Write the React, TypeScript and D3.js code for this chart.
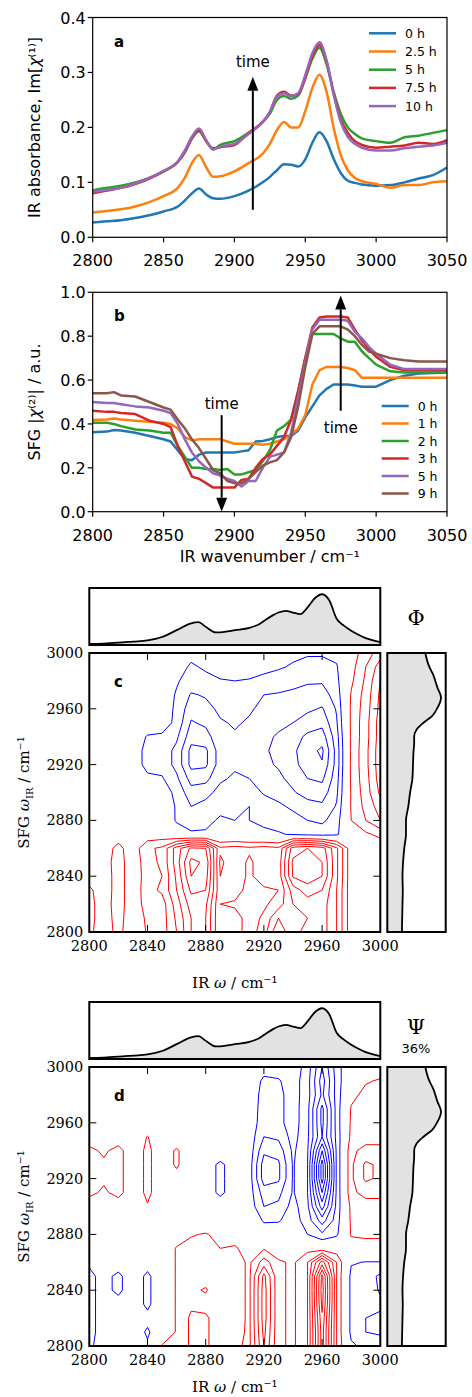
import React from 'react';
import * as d3 from 'd3';

// ---------- panel a: IR absorbance spectra ----------
const irWavenumbers = [2800, 2810, 2820, 2830, 2840, 2850, 2860, 2865, 2870, 2875, 2880, 2885, 2890, 2900, 2910, 2920, 2925, 2930, 2935, 2940, 2945, 2950, 2955, 2960, 2965, 2970, 2975, 2980, 2985, 2990, 3000, 3010, 3020, 3030, 3040, 3050];
const ir0h = [0.027, 0.029, 0.031, 0.035, 0.04, 0.047, 0.056, 0.067, 0.08, 0.089, 0.078, 0.071, 0.07, 0.075, 0.085, 0.1, 0.11, 0.122, 0.133, 0.132, 0.129, 0.142, 0.172, 0.191, 0.175, 0.143, 0.117, 0.103, 0.099, 0.096, 0.094, 0.095, 0.1, 0.107, 0.113, 0.127];
const ir25h = [0.045, 0.048, 0.051, 0.056, 0.064, 0.075, 0.09, 0.108, 0.135, 0.15, 0.128, 0.11, 0.111, 0.12, 0.135, 0.152, 0.17, 0.195, 0.21, 0.2, 0.2, 0.23, 0.272, 0.296, 0.265, 0.2, 0.15, 0.122, 0.108, 0.102, 0.097, 0.09, 0.095, 0.095, 0.1, 0.102];
const ir5h = [0.085, 0.09, 0.094, 0.1, 0.108, 0.12, 0.137, 0.155, 0.18, 0.193, 0.176, 0.16, 0.168, 0.175, 0.19, 0.21, 0.225, 0.25, 0.257, 0.252, 0.258, 0.29, 0.325, 0.345, 0.315, 0.265, 0.225, 0.2, 0.188, 0.18, 0.175, 0.172, 0.182, 0.185, 0.19, 0.195];
const ir75h = [0.08, 0.085, 0.09, 0.097, 0.107, 0.12, 0.137, 0.155, 0.18, 0.195, 0.175, 0.162, 0.164, 0.168, 0.19, 0.21, 0.228, 0.258, 0.265, 0.258, 0.26, 0.29, 0.33, 0.35, 0.32, 0.262, 0.215, 0.19, 0.175, 0.168, 0.163, 0.165, 0.167, 0.172, 0.17, 0.177];
const ir10h = [0.083, 0.086, 0.09, 0.098, 0.108, 0.121, 0.138, 0.158, 0.183, 0.198, 0.177, 0.16, 0.165, 0.17, 0.188, 0.21, 0.228, 0.256, 0.262, 0.257, 0.262, 0.295, 0.335, 0.355, 0.322, 0.26, 0.21, 0.183, 0.17, 0.163, 0.158, 0.158, 0.162, 0.165, 0.167, 0.172];

// ---------- panel b: SFG spectra ----------
const sfgWavenumbers = [2800, 2810, 2815, 2820, 2830, 2840, 2850, 2855, 2860, 2865, 2870, 2875, 2880, 2885, 2890, 2895, 2900, 2905, 2910, 2915, 2920, 2925, 2930, 2935, 2940, 2945, 2950, 2955, 2960, 2965, 2970, 2975, 2980, 2985, 2990, 2995, 3000, 3010, 3020, 3030, 3050];
const sfg0h = [0.362, 0.365, 0.372, 0.37, 0.36, 0.345, 0.33, 0.32, 0.28, 0.24, 0.235, 0.26, 0.27, 0.27, 0.27, 0.27, 0.27, 0.275, 0.28, 0.32, 0.322, 0.33, 0.34, 0.345, 0.345, 0.37, 0.43, 0.48, 0.53, 0.56, 0.58, 0.58, 0.58, 0.575, 0.57, 0.57, 0.57, 0.6, 0.62, 0.63, 0.635];
const sfg1h = [0.418, 0.42, 0.425, 0.42, 0.415, 0.41, 0.405, 0.4, 0.38, 0.34, 0.325, 0.33, 0.33, 0.33, 0.33, 0.32, 0.31, 0.31, 0.31, 0.31, 0.305, 0.31, 0.32, 0.33, 0.35, 0.38, 0.44, 0.58, 0.645, 0.66, 0.66, 0.66, 0.655, 0.645, 0.61, 0.61, 0.61, 0.61, 0.61, 0.61, 0.61];
const sfg2h = [0.405, 0.405, 0.4, 0.39, 0.375, 0.37, 0.36, 0.36, 0.3, 0.25, 0.2, 0.2, 0.195, 0.195, 0.19, 0.195, 0.17, 0.17, 0.18, 0.19, 0.23, 0.28, 0.37, 0.39, 0.42, 0.55, 0.7, 0.81, 0.81, 0.81, 0.81, 0.79, 0.775, 0.775, 0.73, 0.7, 0.67, 0.64, 0.635, 0.635, 0.635];
const sfg3h = [0.46, 0.455, 0.455, 0.45, 0.445, 0.415, 0.4, 0.385, 0.3, 0.23, 0.16, 0.15, 0.13, 0.11, 0.11, 0.11, 0.11, 0.145, 0.15, 0.2, 0.24, 0.26, 0.3, 0.34, 0.42, 0.55, 0.7, 0.84, 0.885, 0.89, 0.89, 0.89, 0.885, 0.83, 0.78, 0.74, 0.706, 0.66, 0.645, 0.645, 0.645];
const sfg5h = [0.5, 0.495, 0.495, 0.49, 0.48, 0.475, 0.46, 0.45, 0.4, 0.33, 0.27, 0.23, 0.2, 0.175, 0.165, 0.15, 0.14, 0.115, 0.14, 0.14, 0.2, 0.25, 0.26, 0.27, 0.36, 0.52, 0.68, 0.83, 0.875, 0.875, 0.875, 0.875, 0.87, 0.82, 0.79, 0.75, 0.72, 0.67, 0.65, 0.65, 0.65];
const sfg9h = [0.54, 0.54, 0.545, 0.53, 0.525, 0.5, 0.475, 0.465, 0.42, 0.38, 0.33, 0.29, 0.24, 0.19, 0.175, 0.14, 0.13, 0.13, 0.15, 0.18, 0.21, 0.225, 0.235, 0.27, 0.34, 0.48, 0.66, 0.81, 0.845, 0.845, 0.845, 0.845, 0.83, 0.8, 0.76, 0.73, 0.72, 0.7, 0.69, 0.685, 0.685];

const abXTicks = [2800, 2850, 2900, 2950, 3000, 3050];
const aYTicks = [0, 0.1, 0.2, 0.3, 0.4];
const bYTicks = [0, 0.2, 0.4, 0.6, 0.8, 1.0];

// ---------- marginal spectra for the 2D maps (normalised) ----------
const margTopX = [2800, 2810, 2820, 2830, 2840, 2850, 2860, 2870, 2875, 2880, 2887, 2895, 2900, 2910, 2917, 2920, 2926, 2930, 2935, 2940, 2945, 2950, 2955, 2960, 2965, 2970, 2975, 2980, 2985, 2990, 2995, 3000];
const margTopVals = [0.02, 0.025, 0.04, 0.06, 0.08, 0.14, 0.26, 0.38, 0.4, 0.32, 0.22, 0.24, 0.26, 0.3, 0.37, 0.42, 0.52, 0.57, 0.6, 0.57, 0.54, 0.66, 0.82, 0.89, 0.78, 0.46, 0.34, 0.25, 0.18, 0.12, 0.08, 0.05];
const margSideY = [2800, 2810, 2820, 2830, 2840, 2850, 2860, 2870, 2880, 2890, 2900, 2910, 2920, 2930, 2935, 2940, 2945, 2950, 2955, 2960, 2968, 2975, 2985, 2990, 3000];
const margSideVals = [0.25, 0.255, 0.26, 0.265, 0.26, 0.27, 0.29, 0.32, 0.32, 0.36, 0.39, 0.43, 0.44, 0.45, 0.46, 0.46, 0.5, 0.62, 0.77, 0.85, 0.92, 0.86, 0.78, 0.72, 0.65];

// ---------- 2D correlation maps: columns = IR, rows = SFG (top row 3000) ----------
const mapCols = [2800, 2810, 2820, 2830, 2840, 2850, 2860, 2870, 2880, 2890, 2900, 2910, 2920, 2930, 2940, 2950, 2960, 2970, 2980, 2990, 3000];
const mapRows = [3000, 2990, 2980, 2970, 2960, 2950, 2940, 2930, 2920, 2910, 2900, 2890, 2880, 2870, 2860, 2850, 2840, 2830, 2820, 2810, 2800];
const mapTicks = [2800, 2840, 2880, 2920, 2960, 3000];

const phiGrid = [
  [0, 0, 0, 0, 0, 0, -0.3, -0.8, -0.7, -0.5, -0.5, -0.5, -0.6, -0.7, -0.8, -0.9, -0.9, -0.7, 0.5, 1.5, 2.5],
  [0, 0, 0, 0, 0, -0.2, -0.7, -1.1, -0.9, -0.7, -0.7, -0.7, -0.8, -0.9, -1.1, -1.3, -1.3, -1.1, 0.6, 2.0, 3.5],
  [0, 0, 0, 0, 0, -0.3, -0.9, -1.4, -1.2, -1.05, -1.0, -1.05, -1.2, -1.4, -1.7, -1.9, -1.9, -1.3, 0.8, 2.2, 4.0],
  [0, 0, 0, 0, 0, -0.4, -1.1, -2.1, -1.9, -1.5, -1.4, -1.6, -2.0, -2.1, -2.2, -2.3, -2.4, -1.6, 1.1, 2.4, 4.2],
  [0, 0, 0, 0, -0.1, -0.4, -1.2, -2.6, -2.3, -1.8, -1.7, -1.9, -2.2, -2.3, -2.4, -2.8, -3.1, -1.9, 1.2, 2.5, 4.3],
  [0, 0, 0, 0, -0.2, -0.4, -1.3, -3.1, -2.8, -2.1, -1.9, -2.1, -2.6, -2.8, -3.0, -3.5, -3.7, -2.1, 1.2, 2.6, 4.5],
  [0, 0, 0, -0.3, -1.1, -1.2, -1.8, -3.6, -3.4, -2.3, -2.1, -2.2, -2.8, -3.1, -3.6, -4.2, -4.5, -2.4, 1.2, 2.6, 4.5],
  [0, 0, 0, -0.5, -1.3, -1.4, -2.3, -4.3, -4.2, -2.5, -2.2, -2.3, -2.9, -3.2, -3.8, -4.6, -5.2, -2.6, 1.2, 2.7, 4.6],
  [0, 0, 0, -0.5, -1.3, -1.4, -2.3, -4.3, -4.2, -2.5, -2.2, -2.3, -2.8, -3.1, -3.7, -4.5, -4.9, -2.6, 1.2, 2.7, 4.6],
  [0, 0, 0, 0, -0.8, -0.9, -1.8, -3.4, -3.3, -2.2, -1.8, -2.0, -2.5, -2.8, -3.3, -4.0, -4.2, -2.4, 1.2, 2.6, 4.5],
  [0, 0, 0, 0, -0.2, -0.4, -1.3, -2.6, -2.4, -1.6, -1.3, -1.5, -2.1, -2.4, -2.9, -3.4, -3.5, -2.2, 1.1, 2.5, 4.2],
  [0, 0, 0, 0, 0, -0.3, -1.1, -2.0, -1.6, -1.2, -1.2, -1.0, -1.5, -1.8, -2.2, -2.6, -2.8, -1.9, 1.1, 2.3, 3.5],
  [0, 0, 0, 0, 0, -0.2, -1.1, -1.3, -1.2, -0.9, -1.0, -1.0, -1.2, -1.4, -1.6, -2.0, -2.2, -1.5, 1.0, 2.0, 3.0],
  [0.3, 0.3, 0.5, 0.2, 0.3, 0.3, -0.5, -0.9, -0.9, -0.6, -0.5, -0.6, -0.8, -0.9, -1.1, -1.3, -1.4, -1.2, 0.3, 0.8, 1.3],
  [0.4, 0.5, 1.3, 0.4, 1.8, 2.2, 4.5, 6.2, 6.0, 2.2, 2.4, 2.2, 2.4, 2.2, 5.5, 6.0, 5.5, 3.2, 0.3, 0.2, 0.2],
  [0.5, 0.5, 1.5, 0.3, 1.6, 2.2, 4.5, 7.3, 6.8, 1.8, 2.6, 1.8, 2.6, 2.4, 6.2, 6.8, 6.0, 3.2, 0.3, 0.2, 0.2],
  [0.5, 0.4, 1.5, 0.3, 1.5, 2.0, 4.2, 7.0, 6.5, 2.0, 2.6, 1.8, 2.6, 2.4, 6.1, 6.6, 6.0, 3.2, 0.3, 0.2, 0.2],
  [1.2, 0.4, 1.5, 0.3, 1.6, 2.2, 4.0, 6.2, 6.0, 2.2, 2.6, 1.5, 1.8, 2.0, 4.5, 5.5, 5.0, 3.0, 0.3, 0.2, 0.2],
  [1.3, 0.5, 1.5, 0.3, 1.5, 1.5, 3.5, 5.5, 5.2, 2.0, 1.8, 1.5, 1.8, 2.5, 4.0, 4.5, 4.5, 3.0, 0.3, 0.2, 0.2],
  [1.3, 0.5, 1.4, 0.3, 1.2, 1.5, 3.2, 5.0, 5.0, 2.0, 2.5, 1.5, 2.2, 4.0, 3.5, 4.0, 4.5, 3.0, 0.3, 0.2, 0.2],
  [1.2, 0.5, 1.3, 0.3, 1.1, 1.5, 3.0, 5.0, 5.0, 2.0, 2.5, 1.5, 2.5, 5.0, 3.0, 5.0, 4.5, 3.0, 0.3, 0.2, 0.2],
];

const psiGrid = [
  [0, 0, 0, 0, 0, 0, 0, 0, 0, 0, 0, -0.2, -0.6, -0.5, -0.3, -1.5, -4.0, -1.5, 0.1, 0.3, 0.5],
  [0, 0, 0, 0, 0, 0, 0, 0, 0, 0, 0, -0.3, -1.2, -1.1, -0.5, -1.6, -4.5, -1.6, 0.3, 0.9, 1.1],
  [0, 0, 0, 0, 0, 0, 0, 0, 0, 0, 0, -0.3, -1.4, -1.3, -0.5, -1.6, -4.2, -1.6, 0.7, 1.3, 1.3],
  [0, 0, 0, 0, 0, 0, 0, 0, 0, 0, 0, -0.3, -1.5, -1.3, -0.5, -1.7, -5.3, -1.6, 1.1, 1.4, 1.4],
  [0, 0, 0, 0, 0, 0, 0, 0, 0, 0, 0, -0.3, -1.6, -1.3, -0.5, -1.7, -5.3, -1.6, 1.2, 1.5, 1.5],
  [0.3, 0.3, 0.3, 0.2, 1.05, 0.2, 0, 0, 0, 0, 0, -0.4, -2.0, -1.8, -0.6, -1.8, -5.0, -1.7, 1.3, 1.6, 1.6],
  [1.3, 0.8, 1.4, 0.2, 1.3, 0.2, 1.2, 0, 0, 0, 0, -0.4, -2.8, -2.6, -0.8, -1.9, -7.0, -1.8, 1.8, 2.3, 2.3],
  [1.3, 1.2, 1.4, 0.2, 1.3, 0.2, 1.2, 0, -0.3, -1.3, -0.3, -0.5, -3.5, -3.2, -0.9, -2.0, -8.5, -1.8, 1.8, 3.2, 2.8],
  [1.3, 1.2, 1.4, 0.2, 1.3, 0.2, 0.5, 0, -0.3, -1.3, -0.3, -0.5, -3.5, -3.2, -0.9, -2.0, -8.5, -1.8, 1.8, 3.2, 2.8],
  [1.3, 0.8, 1.4, 0.2, 1.3, 0.2, 0, 0, -0.3, -1.3, -0.3, -0.5, -2.5, -2.3, -0.9, -2.0, -7.0, -1.8, 1.8, 2.3, 2.3],
  [0.3, 0.2, 0.3, 0.1, 0.9, 0.1, 0, 0, 0, -0.2, 0, -0.4, -2.0, -1.8, -0.6, -1.8, -5.5, -1.7, 1.3, 1.6, 1.6],
  [0, 0, 0, 0, 0, 0, 0, 0, 0, 0, 0, -0.3, -1.1, -1.1, -0.5, -1.5, -3.5, -1.5, 1.2, 1.5, 1.5],
  [0, 0, 0, 0, 0, 0, 0.3, 0.9, 1.1, 0.6, 0.2, -0.1, -0.5, -0.3, -0.2, -1.0, -1.8, -1.2, 1.1, 1.3, 1.3],
  [0, 0, 0, 0, 0, 0, 1.1, 1.4, 1.3, 1.0, 1.2, 0.3, 0.9, 0.2, 0.4, 0.6, 0.3, 0.3, 0.5, 0.3, 0.3],
  [-0.8, -0.4, -0.3, -0.2, -0.4, 0, 1.1, 1.6, 1.5, 1.3, 1.5, 0.8, 2.5, 1.2, 0.8, 2.0, 5.5, 2.0, -0.9, -1.05, -1.05],
  [-1.3, -0.6, -1.3, -0.2, -1.3, 0, 1.1, 1.8, 1.6, 1.3, 1.5, 0.8, 4.3, 1.2, 0.8, 2.0, 8.3, 2.0, -1.3, -1.5, -2.2],
  [-1.3, -0.6, -1.3, -0.2, -1.3, 0, 1.1, 1.8, 2.1, 1.3, 1.5, 0.8, 4.5, 1.2, 0.8, 2.0, 8.5, 2.0, -1.3, -1.5, -2.1],
  [-1.3, -0.6, -0.5, -0.2, -1.3, 0, 1.1, 1.8, 1.6, 1.3, 1.5, 0.8, 4.5, 1.2, 0.8, 2.0, 8.3, 2.0, -1.3, -1.5, -1.8],
  [-1.3, -0.6, -0.3, -0.2, -0.6, 0, 1.1, 2.2, 2.2, 1.3, 1.5, 0.8, 4.5, 1.2, 0.8, 2.0, 7.8, 2.0, -1.3, -2.0, -2.2],
  [-1.3, -0.6, -0.3, -0.2, -1.2, 0, 1.1, 2.2, 2.2, 1.3, 1.4, 0.8, 4.3, 1.2, 0.8, 2.0, 7.5, 2.0, -1.3, -2.0, -2.2],
  [-1.2, -0.5, -0.3, -0.2, -0.8, 1.1, 1.1, 2.2, 2.2, 1.3, 1.2, 0.8, 4.0, 1.2, 0.8, 2.0, 7.5, 2.0, -0.8, -1.3, -1.3],
];

const phiLevels = [-5, -4, -3, -2, -1, 1, 2, 3, 4, 5, 6, 7];
const psiLevels = [-8, -7, -6, -5, -4, -3, -2, -1, 1, 2, 3, 4, 5, 6, 7, 8];

const SANS = 'DejaVu Sans';
const SERIF = 'DejaVu Serif';

// matplotlib default cycle
const C = {
  blue: '#1f77b4', orange: '#ff7f0e', green: '#2ca02c', red: '#d62728', purple: '#9467bd', brown: '#8c564b',
};

const aSeries = [
  { label: '0 h', color: C.blue, values: ir0h },
  { label: '2.5 h', color: C.orange, values: ir25h },
  { label: '5 h', color: C.green, values: ir5h },
  { label: '7.5 h', color: C.red, values: ir75h },
  { label: '10 h', color: C.purple, values: ir10h },
];
const bSeries = [
  { label: '0 h', color: C.blue, values: sfg0h },
  { label: '1 h', color: C.orange, values: sfg1h },
  { label: '2 h', color: C.green, values: sfg2h },
  { label: '3 h', color: C.red, values: sfg3h },
  { label: '5 h', color: C.purple, values: sfg5h },
  { label: '9 h', color: C.brown, values: sfg9h },
];

const xAB = d3.scaleLinear([2800, 3050], [92.7, 447]);

function Arrow({ x, y1, y2 }) {
  // shaft from y1 to the tip at y2
  const dir = y2 < y1 ? 1 : -1;
  const head = 14;
  return (
    <g>
      <line x1={x} x2={x} y1={y1} y2={y2 + dir * head} stroke="black" strokeWidth={2} />
      <path d={`M${x},${y2} L${x - 5.5},${y2 + dir * head} L${x + 5.5},${y2 + dir * head} Z`} fill="black" />
    </g>
  );
}

function SpectrumPanel({ top, bottom, yTicks, xs, series, curve, letter, yLabel, legend, xLabel, children }) {
  const y = d3.scaleLinear([0, yTicks[yTicks.length - 1]], [bottom, top]);
  const line = d3.line().x((_, i) => xAB(xs[i])).y((v) => y(v)).curve(curve);
  const [x0, x1] = xAB.range();
  return (
    <g>
      {series.map((s) => (
        <path key={s.label} d={line(s.values)} fill="none" stroke={s.color} strokeWidth={2.5} strokeLinejoin="round" />
      ))}
      <rect x={x0} y={top} width={x1 - x0} height={bottom - top} fill="none" stroke="black" strokeWidth={1.2} />
      {abXTicks.map((t) => (
        <g key={t}>
          <line x1={xAB(t)} x2={xAB(t)} y1={bottom} y2={bottom + 5} stroke="black" strokeWidth={1.2} />
          <text x={xAB(t)} y={bottom + 29} textAnchor="middle" fontFamily={SANS} fontSize={16}>{t}</text>
        </g>
      ))}
      {yTicks.map((t) => (
        <g key={t}>
          <line x1={x0 - 5} x2={x0} y1={y(t)} y2={y(t)} stroke="black" strokeWidth={1.2} />
          <text x={x0 - 7} y={y(t) + 6} textAnchor="end" fontFamily={SANS} fontSize={16}>{t.toFixed(1)}</text>
        </g>
      ))}
      <text x={114} y={top + 29} fontFamily={SANS} fontSize={15} fontWeight="bold">{letter}</text>
      <text transform={`translate(40,${(top + bottom) / 2}) rotate(-90)`} textAnchor="middle" fontFamily={SANS} fontSize={16}>{yLabel}</text>
      {xLabel && (
        <text x={(x0 + x1) / 2} y={bottom + 50} textAnchor="middle" fontFamily={SANS} fontSize={16}>{xLabel}</text>
      )}
      {series.map((s, i) => (
        <g key={s.label}>
          <line x1={legend.x} x2={legend.x + 27} y1={legend.y + i * legend.dy} y2={legend.y + i * legend.dy} stroke={s.color} strokeWidth={2.5} />
          <text x={legend.x + 36} y={legend.y + i * legend.dy + 4.5} fontFamily={SANS} fontSize={12.5}>{s.label}</text>
        </g>
      ))}
      {children(y)}
    </g>
  );
}

function MapPanel({ top, letter, grid, levels, title, subtitle, xLabelGap }) {
  const left = 89.3;
  const right = 380.3;
  const bottom = top + 279;
  const x = d3.scaleLinear([2800, 3000], [left, right]);
  const y = d3.scaleLinear([2800, 3000], [bottom, top]);
  const n = mapCols.length;
  const m = mapRows.length;
  const contours = d3.contours().size([n, m]).thresholds(levels)(grid.flat());
  const gx = d3.scaleLinear([0.5, n - 0.5], [x(mapCols[0]), x(mapCols[n - 1])]);
  const gy = d3.scaleLinear([0.5, m - 0.5], [y(mapRows[0]), y(mapRows[m - 1])]);
  const proj = d3.geoTransform({
    point(px, py) {
      this.stream.point(gx(px), gy(py));
    },
  });
  const path = d3.geoPath(proj);

  // top marginal (IR)
  const mTop = top - 65;
  const mBottom = top - 8;
  const my = d3.scaleLinear([0, 1], [mBottom, mTop]);
  const topArea = d3.area().x((_, i) => x(margTopX[i])).y0(mBottom).y1((v) => my(v)).curve(d3.curveMonotoneX);
  const topLine = d3.line().x((_, i) => x(margTopX[i])).y((v) => my(v)).curve(d3.curveMonotoneX);

  // side marginal (SFG)
  const sLeft = 387.3;
  const sRight = 445.7;
  const sx = d3.scaleLinear([0, 1], [sLeft, sRight]);
  const sideArea = d3.area().y((_, i) => y(margSideY[i])).x0(sLeft).x1((v) => sx(v)).curve(d3.curveMonotoneY);
  const sideLine = d3.line().y((_, i) => y(margSideY[i])).x((v) => sx(v)).curve(d3.curveMonotoneY);

  const clipId = `clip-${letter}`;
  const inner = mapTicks.slice(1, -1);
  return (
    <g>
      <defs>
        <clipPath id={clipId}>
          <rect x={left} y={top} width={right - left} height={bottom - top} />
        </clipPath>
      </defs>
      {/* top marginal */}
      <path d={topArea(margTopVals)} fill="#e2e2e2" />
      <path d={topLine(margTopVals)} fill="none" stroke="black" strokeWidth={1.8} />
      <rect x={left} y={mTop} width={right - left} height={mBottom - mTop} fill="none" stroke="black" strokeWidth={2} />
      {/* side marginal */}
      <path d={sideArea(margSideVals)} fill="#e2e2e2" />
      <path d={sideLine(margSideVals)} fill="none" stroke="black" strokeWidth={1.8} />
      <rect x={sLeft} y={top} width={sRight - sLeft} height={bottom - top} fill="none" stroke="black" strokeWidth={2} />
      {/* contours */}
      <g clipPath={`url(#${clipId})`}>
        {contours.map((c) => (
          <path key={c.value} d={path(c)} fill="none" stroke={c.value < 0 ? '#0000ff' : '#ff0000'} strokeWidth={1} strokeLinejoin="round" />
        ))}
      </g>
      <rect x={left} y={top} width={right - left} height={bottom - top} fill="none" stroke="black" strokeWidth={2} />
      {inner.map((t) => (
        <g key={t} stroke="black" strokeWidth={1}>
          <line x1={x(t)} x2={x(t)} y1={bottom} y2={bottom - 7} />
          <line x1={x(t)} x2={x(t)} y1={top} y2={top + 7} />
          <line x1={left} x2={left + 7} y1={y(t)} y2={y(t)} />
          <line x1={right} x2={right - 7} y1={y(t)} y2={y(t)} />
        </g>
      ))}
      {mapTicks.map((t) => (
        <g key={t} fontFamily={SERIF} fontSize={14.5}>
          <text x={x(t)} y={bottom + 19} textAnchor="middle">{t}</text>
          <text x={left - 6} y={y(t) + 5} textAnchor="end">{t}</text>
        </g>
      ))}
      <text x={114} y={top + 34} fontFamily={SANS} fontSize={15} fontWeight="bold">{letter}</text>
      <text transform={`translate(29,${(top + bottom) / 2}) rotate(-90)`} textAnchor="middle" fontFamily={SERIF} fontSize={15}>
        SFG <tspan fontStyle="italic">ω</tspan><tspan fontSize={10} dy={4}>IR</tspan><tspan dy={-4}> / cm⁻¹</tspan>
      </text>
      <text x={(left + right) / 2} y={bottom + xLabelGap} textAnchor="middle" fontFamily={SERIF} fontSize={15}>
        IR <tspan fontStyle="italic">ω</tspan> / cm⁻¹
      </text>
      <text x={416} y={subtitle ? top - 33 : top - 28} textAnchor="middle" fontFamily={SERIF} fontSize={21}>{title}</text>
      {subtitle && <text x={416} y={top - 14} textAnchor="middle" fontFamily={SANS} fontSize={13}>{subtitle}</text>}
    </g>
  );
}

export default function App() {
  return (
    <svg width={472} height={1397} viewBox="0 0 472 1397" style={{ position: 'absolute', left: 0, top: 0, background: 'white' }}>
      <rect width={472} height={1397} fill="white" />
      <SpectrumPanel
        top={17.5}
        bottom={237.3}
        yTicks={aYTicks}
        xs={irWavenumbers}
        series={aSeries}
        curve={d3.curveMonotoneX}
        letter="a"
        yLabel={<>IR absorbance, Im[<tspan fontStyle="italic">χ</tspan>⁽¹⁾]</>}
        legend={{ x: 369, y: 33.3, dy: 18.2 }}
      >
        {(y) => (
          <g>
            <Arrow x={xAB(2913)} y1={y(0.05)} y2={y(0.292)} />
            <text x={xAB(2913)} y={y(0.31)} textAnchor="middle" fontFamily={SANS} fontSize={15}>time</text>
          </g>
        )}
      </SpectrumPanel>
      <SpectrumPanel
        top={292.3}
        bottom={511.7}
        yTicks={bYTicks}
        xs={sfgWavenumbers}
        series={bSeries}
        curve={d3.curveLinear}
        letter="b"
        yLabel={<>SFG |<tspan fontStyle="italic">χ</tspan>⁽²⁾| / a.u.</>}
        legend={{ x: 381.7, y: 406, dy: 17.5 }}
        xLabel="IR wavenumber / cm⁻¹"
      >
        {(y) => (
          <g>
            <Arrow x={xAB(2975)} y1={y(0.46)} y2={y(0.985)} />
            <text x={xAB(2975)} y={y(0.36)} textAnchor="middle" fontFamily={SANS} fontSize={15}>time</text>
            <Arrow x={xAB(2891)} y1={y(0.44)} y2={y(0.0)} />
            <text x={xAB(2891)} y={y(0.47)} textAnchor="middle" fontFamily={SANS} fontSize={15}>time</text>
          </g>
        )}
      </SpectrumPanel>
      <MapPanel top={653} letter="c" grid={phiGrid} levels={phiLevels} title="Φ" xLabelGap={56} />
      <MapPanel top={1067} letter="d" grid={psiGrid} levels={psiLevels} title="Ψ" subtitle="36%" xLabelGap={46} />
    </svg>
  );
}
